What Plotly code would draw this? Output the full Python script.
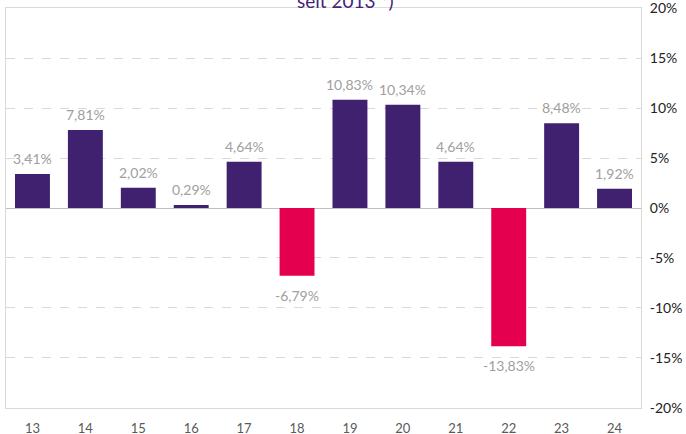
import plotly.graph_objects as go

# Jahre (Kurzform) und Renditen in %
years = ["13", "14", "15", "16", "17", "18", "19", "20", "21", "22", "23", "24"]
returns = [3.41, 7.81, 2.02, 0.29, 4.64, -6.79, 10.83, 10.34, 4.64, -13.83, 8.48, 1.92]
tick_vals = [-20, -15, -10, -5, 0, 5, 10, 15, 20]
tick_text = [f"{t}%" for t in tick_vals]

PURPLE = "#3f2170"
RED = "#e5004f"

colors = [PURPLE if v >= 0 else RED for v in returns]
labels = [f"{v:.2f}%".replace(".", ",") for v in returns]

fig = go.Figure()
fig.add_trace(go.Bar(
    x=years,
    y=returns,
    marker=dict(color=colors, line=dict(width=0)),
    width=0.66,
    hoverinfo="skip",
))

# Datenbeschriftungen ueber/unter den Balken (x = Kategorie-Index)
for i, (v, lab) in enumerate(zip(returns, labels)):
    fig.add_annotation(
        x=i, y=v, text=lab, showarrow=False,
        yanchor="bottom" if v >= 0 else "top",
        yshift=5 if v >= 0 else -9,
        font=dict(color="#a0a0a0", size=14, family="Lato"),
    )

fig.add_annotation(
    text="seit 2013 *)",
    xref="paper", yref="paper",
    x=0.534, y=1, yanchor="middle", yshift=8,
    showarrow=False,
    font=dict(color="#43237a", size=19, family="Lato"),
)

fig.update_layout(
    width=686, height=434,
    margin=dict(l=6, r=45, t=8, b=26),
    plot_bgcolor="white",
    paper_bgcolor="white",
    showlegend=False,
    font=dict(family="Lato", color="#595959", size=13),
)
fig.update_xaxes(
    type="category",
    showline=True, linecolor="#d9d9d9", linewidth=1, mirror=True,
    showgrid=False, ticks="", ticklabelstandoff=8, automargin=False,
    tickfont=dict(color="#595959", size=13),
)
fig.update_yaxes(
    side="right", range=[-20.02, 20.02], tickvals=tick_vals, ticktext=tick_text,
    ticklabeloverflow="allow", ticklabelstandoff=5,
    showline=True, linecolor="#d9d9d9", linewidth=1, mirror=True,
    showgrid=True, gridcolor="#d9d9d9", griddash="dash",
    zeroline=True, zerolinecolor="#bfbfbf", zerolinewidth=1,
    automargin=False,
    tickfont=dict(color="#222222", size=14),
)

fig.write_html(
    "out.html",
    config={"displayModeBar": False},
    post_script="document.body.style.margin='0px';",
)
